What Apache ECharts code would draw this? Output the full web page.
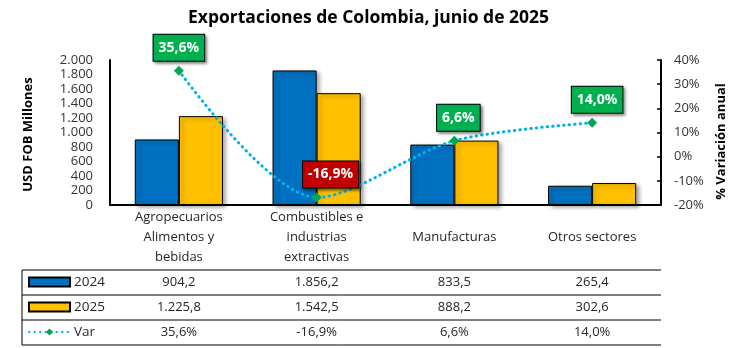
<!DOCTYPE html>
<html>
<head>
<meta charset="utf-8">
<script src="https://cdn.jsdelivr.net/npm/echarts@6/dist/echarts.min.js"></script>
<style>
html,body{margin:0;padding:0;background:#fff;}
#c{width:741px;height:348px;}
</style>
</head>
<body>
<div id="c"></div>
<script>
// ---- data ----
const categories = ["Agropecuarios\nAlimentos y\nbebidas", "Combustibles e\nindustrias\nextractivas", "Manufacturas", "Otros sectores"];
const seriesNames = ["2024", "2025", "Var"];
const v2024 = [904.2, 1856.2, 833.5, 265.4];
const v2025 = [1225.8, 1542.5, 888.2, 302.6];
const varPct = [35.6, -16.9, 6.6, 14.0];

// ---- layout / style ----
const FONT = "Open Sans";
const GL = 110, GR = 661, GT = 60, GB = 205;
const ROW = 25, HEAD = 65, TL = 22;
const labelDx = [0, 14, 4, 5];

function fmtNum(v, dec) {
  const s = v.toFixed(dec).split('.');
  const int = s[0].replace(/\B(?=(\d{3})+(?!\d))/g, '.');
  return dec ? int + ',' + s[1] : int;
}

const chart = echarts.init(document.getElementById('c'), null, {renderer: 'canvas'});

const rowAxis = (vals, k) => ({
  type: 'category', data: vals, position: 'bottom', gridIndex: 0,
  offset: HEAD + ROW * k,
  axisLine: {show: false}, axisTick: {show: false},
  axisLabel: {fontFamily: FONT, fontSize: 13, color: '#262626', margin: 5, lineHeight: 15, verticalAlign: 'top'}
});

const tableTop = GB + HEAD;
const tableBottom = tableTop + ROW * 3;
const lines = [];
for (let k = 0; k <= 3; k++) {
  const y = tableTop + ROW * k;
  lines.push({type: 'line', shape: {x1: TL, y1: y, x2: GR, y2: y}, style: {stroke: '#000', lineWidth: 1}, silent: true});
}
lines.push({type: 'line', shape: {x1: TL, y1: tableTop, x2: TL, y2: tableBottom}, style: {stroke: '#000', lineWidth: 1}, silent: true});

const barShadow = {shadowColor: 'rgba(0,0,0,0.35)', shadowBlur: 4, shadowOffsetX: 3, shadowOffsetY: 2};

chart.setOption({
  animation: false,
  textStyle: {fontFamily: FONT},
  title: {
    text: 'Exportaciones de Colombia, junio de 2025', left: 183, top: 4,
    textStyle: {fontFamily: FONT, fontSize: 17.5, fontWeight: 'bold', color: '#000'}
  },
  legend: {
    orient: 'vertical', left: 28, top: tableTop + 4.5, padding: 0,
    itemWidth: 41, itemHeight: 9, itemGap: 10,
    data: [
      {name: seriesNames[0], icon: 'rect'},
      {name: seriesNames[1], icon: 'rect'},
      {name: seriesNames[2]}
    ],
    itemStyle: {shadowBlur: 0, shadowOffsetX: 0, shadowOffsetY: 0, shadowColor: 'transparent'},
    textStyle: {fontFamily: FONT, fontSize: 13.5, color: '#262626', lineHeight: 15, padding: [0, 0, 0, -1]}
  },
  grid: {left: GL, right: 741 - GR, top: GT, bottom: 348 - GB},
  xAxis: [
    {
      type: 'category', data: categories, position: 'bottom',
      axisLine: {lineStyle: {color: '#000', width: 2}},
      axisTick: {length: HEAD + ROW * 3, lineStyle: {color: '#000', width: 1}},
      axisLabel: {fontFamily: FONT, fontSize: 13, color: '#262626', lineHeight: 20, margin: HEAD / 2, verticalAlign: 'middle', interval: 0}
    },
    rowAxis(v2024.map(v => fmtNum(v, 1)), 0),
    rowAxis(v2025.map(v => fmtNum(v, 1)), 1),
    rowAxis(varPct.map(v => fmtNum(v, 1) + '%'), 2)
  ],
  yAxis: [
    {
      type: 'value', min: 0, max: 2000, interval: 200,
      name: 'USD FOB Millones', nameLocation: 'middle', nameGap: 75, nameRotate: 90,
      nameTextStyle: {fontFamily: FONT, fontSize: 13, fontWeight: 'bold', color: '#000', padding: [0, 4, 0, 0]},
      axisLine: {show: true, lineStyle: {color: '#000', width: 2}},
      axisTick: {show: false}, splitLine: {show: false},
      axisLabel: {fontFamily: FONT, fontSize: 13, color: '#333', margin: 17, formatter: v => fmtNum(v, 0)}
    },
    {
      type: 'value', min: -20, max: 40, interval: 10, position: 'right',
      name: '% Variación anual', nameLocation: 'middle', nameGap: 50, nameRotate: 90,
      nameTextStyle: {fontFamily: FONT, fontSize: 13, fontWeight: 'bold', color: '#000', padding: [0, 18, 0, 0]},
      axisLine: {show: true, lineStyle: {color: '#000', width: 2}},
      axisTick: {show: true, inside: true, length: 4, lineStyle: {color: '#000', width: 1.5}},
      splitLine: {show: false},
      axisLabel: {fontFamily: FONT, fontSize: 13, color: '#333', margin: 13, formatter: v => v + '%'}
    }
  ],
  series: [
    {
      name: seriesNames[0], type: 'bar', data: v2024, barGap: 0, barCategoryGap: '36%',
      itemStyle: Object.assign({color: '#0070C0', borderColor: '#000', borderWidth: 1}, barShadow)
    },
    {
      name: seriesNames[1], type: 'bar', data: v2025,
      itemStyle: Object.assign({color: '#FFC000', borderColor: '#000', borderWidth: 1}, barShadow)
    },
    {
      name: seriesNames[2], type: 'line', yAxisIndex: 1, smooth: 0.3, z: 5,
      data: varPct.map((v, i) => ({
        value: v,
        label: {backgroundColor: v < 0 ? '#C00000' : '#00B050', offset: [labelDx[i], 0]}
      })),
      symbol: 'diamond', symbolSize: 10,
      itemStyle: {color: '#00A651'},
      lineStyle: {color: '#00B0F0', width: 3, type: [0.5, 5], cap: 'round'},
      label: {
        show: true, position: 'top', distance: 5,
        formatter: p => fmtNum(p.value, 1) + '%',
        fontFamily: FONT, fontSize: 14, fontWeight: 'bold', color: '#fff',
        padding: [4, 5, 4, 5], lineHeight: 18, borderColor: '#000', borderWidth: 1,
        shadowColor: 'rgba(0,0,0,0.45)', shadowBlur: 3, shadowOffsetX: 2, shadowOffsetY: 2
      }
    }
  ],
  graphic: lines
});
</script>
</body>
</html>
